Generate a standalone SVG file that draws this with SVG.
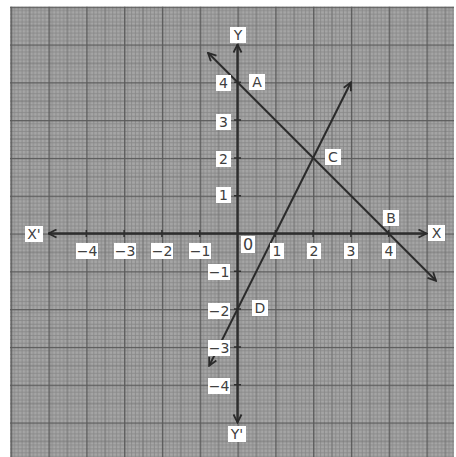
<svg xmlns="http://www.w3.org/2000/svg" width="456" height="457" viewBox="0 0 456 457">
  <style>
    .axis{stroke:#2e2e2e;stroke-width:2.4;fill:none}
    .ln{stroke:#2a2a2a;stroke-width:2;fill:none}
    .box{fill:#ffffff}
    .lbl{font-family:"DejaVu Sans",sans-serif;font-size:14px;fill:#404040;text-anchor:middle;dominant-baseline:central}
    .tick{stroke:#2e2e2e;stroke-width:1.5}
  </style>
  <defs>
    <pattern id="grid" patternUnits="userSpaceOnUse" x="10.7" y="6.7" width="37.8" height="37.8">
      <rect width="37.8" height="37.8" fill="#a6a6a6"/>
      <g stroke="#878787" stroke-width="0.9">
        <path d="M3.78 0V37.8M7.56 0V37.8M11.34 0V37.8M15.12 0V37.8M22.68 0V37.8M26.46 0V37.8M30.24 0V37.8M34.02 0V37.8"/>
        <path d="M0 3.78H37.8M0 7.56H37.8M0 11.34H37.8M0 15.12H37.8M0 22.68H37.8M0 26.46H37.8M0 30.24H37.8M0 34.02H37.8"/>
      </g>
      <g stroke="#767676" stroke-width="1.2">
        <path d="M18.9 0V37.8M0 18.9H37.8"/>
      </g>
      <g stroke="#5a5a5a" stroke-width="1.5">
        <path d="M0.6 0V37.8M0 0.6H37.8"/>
      </g>
    </pattern>
    <marker id="arr" viewBox="0 0 10 10" refX="9" refY="5" markerWidth="10" markerHeight="10" markerUnits="userSpaceOnUse" orient="auto-start-reverse">
      <path d="M1 1L9 5L1 9" fill="none" stroke="#2a2a2a" stroke-width="1.8"/>
    </marker>
  </defs>
  <rect width="456" height="457" fill="#ffffff"/>
  <rect x="10" y="6.5" width="444" height="450.5" fill="url(#grid)"/>

  <g id="connectors">
    <g id="axes">
      <line class="axis" x1="48.5" y1="233.5" x2="426.5" y2="233.5" marker-start="url(#arr)" marker-end="url(#arr)"/>
      <line class="axis" x1="237.5" y1="422.5" x2="237.5" y2="44.5" marker-start="url(#arr)" marker-end="url(#arr)"/>
      <path class="tick" d="M86.3 230V237M124.1 230V237M161.9 230V237M199.7 230V237M275.3 230V237M313.1 230V237M350.9 230V237M388.7 230V237"/>
      <path class="tick" d="M234 82.3H241M234 120.1H241M234 157.9H241M234 195.7H241M234 271.3H241M234 309.1H241M234 346.9H241M234 384.7H241"/>
    </g>
    <line id="lineAB" class="ln" x1="208" y1="52.8" x2="436" y2="280.8" marker-start="url(#arr)" marker-end="url(#arr)"/>
    <line id="lineCD" class="ln" x1="209.2" y1="365.8" x2="350.9" y2="82.3" marker-start="url(#arr)" marker-end="url(#arr)"/>
  </g>

  <g id="axis-labels">
    <g id="lblY"><rect class="box" x="230" y="27" width="16" height="16"/><text class="lbl" x="238" y="35">Y</text></g>
    <g id="lblY2"><rect class="box" x="228" y="426" width="18" height="16"/><text class="lbl" x="237" y="434">Y'</text></g>
    <g id="lblX"><rect class="box" x="428" y="225" width="17" height="16"/><text class="lbl" x="436.5" y="233">X</text></g>
    <g id="lblX2"><rect class="box" x="25" y="226" width="18" height="16"/><text class="lbl" x="34" y="234">X'</text></g>
  </g>

  <g id="points">
    <g id="A"><rect class="box" x="249" y="74" width="16" height="16"/><text class="lbl" x="257" y="82">A</text></g>
    <g id="C"><rect class="box" x="325" y="149" width="16" height="16"/><text class="lbl" x="333" y="157">C</text></g>
    <g id="B"><rect class="box" x="383" y="210" width="16" height="16"/><text class="lbl" x="391" y="218">B</text></g>
    <g id="D"><rect class="box" x="252" y="300" width="16" height="16"/><text class="lbl" x="260" y="308">D</text></g>
    <g id="O"><rect class="box" x="241" y="236" width="14" height="17"/><text class="lbl" x="248" y="244.5" style="font-size:16px">0</text></g>
  </g>

  <g id="x-ticks">
    <g><rect class="box" x="76" y="243" width="22" height="16"/><text class="lbl" x="87" y="251">−4</text></g>
    <g><rect class="box" x="114" y="243" width="22" height="16"/><text class="lbl" x="125" y="251">−3</text></g>
    <g><rect class="box" x="151" y="243" width="22" height="16"/><text class="lbl" x="162" y="251">−2</text></g>
    <g><rect class="box" x="189" y="243" width="22" height="16"/><text class="lbl" x="200" y="251">−1</text></g>
    <g><rect class="box" x="270" y="243" width="14" height="16"/><text class="lbl" x="277" y="251">1</text></g>
    <g><rect class="box" x="307" y="243" width="14" height="16"/><text class="lbl" x="314" y="251">2</text></g>
    <g><rect class="box" x="344" y="243" width="14" height="16"/><text class="lbl" x="351" y="251">3</text></g>
    <g><rect class="box" x="382" y="243" width="14" height="16"/><text class="lbl" x="389" y="251">4</text></g>
  </g>

  <g id="y-ticks">
    <g><rect class="box" x="216" y="75" width="15" height="16"/><text class="lbl" x="223.5" y="83">4</text></g>
    <g><rect class="box" x="216" y="114" width="15" height="16"/><text class="lbl" x="223.5" y="122">3</text></g>
    <g><rect class="box" x="216" y="151" width="15" height="16"/><text class="lbl" x="223.5" y="159">2</text></g>
    <g><rect class="box" x="216" y="187" width="15" height="16"/><text class="lbl" x="223.5" y="195">1</text></g>
    <g><rect class="box" x="208" y="264" width="22" height="16"/><text class="lbl" x="219" y="272">−1</text></g>
    <g><rect class="box" x="208" y="303" width="22" height="16"/><text class="lbl" x="219" y="311">−2</text></g>
    <g><rect class="box" x="208" y="340" width="22" height="16"/><text class="lbl" x="219" y="348">−3</text></g>
    <g><rect class="box" x="208" y="378" width="22" height="16"/><text class="lbl" x="219" y="386">−4</text></g>
  </g>
</svg>
